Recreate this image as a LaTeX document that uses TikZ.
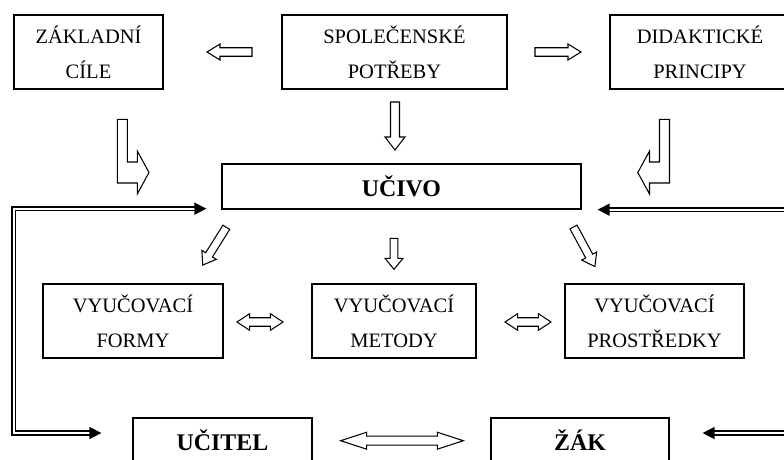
\documentclass[tikz,border=0pt]{standalone}
\usepackage{fontspec}
\setmainfont{Liberation Serif}
\usetikzlibrary{arrows.meta,calc}

% strut giving every text line the same height and depth
\newcommand\lstrut{\rule[-6pt]{0pt}{29.6pt}}

\tikzset{
  box/.style={draw, line width=1.3pt, inner sep=0pt, align=center,
    font=\fontsize{20.5}{35}\selectfont},
  boldbox/.style={draw, line width=1.3pt, inner sep=0pt,
    font=\fontsize{23.9}{28}\selectfont\bfseries,
    text height=24pt, text depth=3.6pt},
  blockline/.style={draw, line width=1.05pt, fill=white, line join=miter},
  dblarrow/.style={double, double distance=2pt, line width=1.6pt,
    {Triangle[length=12pt,width=12pt]}-{Triangle[length=12pt,width=12pt]}},
  % hollow block arrow: length, shaft width, head width, head length
  pics/blockarrow/.style n args={4}{code={%
    \path[blockline] (0,-#2/2) -- ({#1-#4},-#2/2) -- ({#1-#4},-#3/2) -- (#1,0)
      -- ({#1-#4},#3/2) -- ({#1-#4},#2/2) -- (0,#2/2) -- cycle;}},
  % hollow block arrow with a head at both ends
  pics/dblblock/.style n args={4}{code={%
    \path[blockline] (0,0) -- (#4,#3/2) -- (#4,#2/2) -- ({#1-#4},#2/2)
      -- ({#1-#4},#3/2) -- (#1,0) -- ({#1-#4},-#3/2) -- ({#1-#4},-#2/2)
      -- (#4,-#2/2) -- (#4,-#3/2) -- cycle;}},
}

\begin{document}
\begin{tikzpicture}[x=1pt, y=-1pt]
\useasboundingbox (0,0) rectangle (784,459);
\clip (0,0) rectangle (784,459);

% boxes
\node[box, minimum width=149pt, minimum height=74pt] (zaklad) at (88.5,52)
  {\lstrut ZÁKLADNÍ\\\lstrut CÍLE};
\node[box, minimum width=225pt, minimum height=74pt] (spol) at (394.5,52)
  {\lstrut SPOLEČENSKÉ\\\lstrut POTŘEBY};
\node[box, minimum width=180pt, minimum height=74pt] (didakt) at (700,52)
  {\lstrut DIDAKTICKÉ\\\lstrut PRINCIPY};
\node[boldbox, minimum width=359pt, minimum height=45pt] (ucivo) at (401.5,186.5)
  {UČIVO};
\node[box, minimum width=180pt, minimum height=74pt] (formy) at (133,321)
  {\lstrut VYUČOVACÍ\\\lstrut FORMY};
\node[box, minimum width=164pt, minimum height=74pt] (metody) at (394,321)
  {\lstrut VYUČOVACÍ\\\lstrut METODY};
\node[box, minimum width=179pt, minimum height=74pt] (prostr) at (654.5,321)
  {\lstrut VYUČOVACÍ\\\lstrut PROSTŘEDKY};
\node[boldbox, minimum width=179pt, minimum height=45pt] (ucitel) at (222.5,440.5)
  {UČITEL};
\node[boldbox, minimum width=178pt, minimum height=45pt] (zak) at (580,440.5)
  {ŽÁK};

% hollow arrows between the top boxes
\pic[rotate=180] at (252,52) {blockarrow={45}{8.5}{16}{13}};
\pic at (535,52) {blockarrow={46}{8.5}{16}{13}};
\pic[rotate=-90] at (395,102) {blockarrow={48}{9}{20}{13}};

% bent arrows into UČIVO
\path[blockline] (117.3,119.3) -- (127.3,119.3) -- (127.3,162) -- (137.3,162)
  -- (137.3,151) -- (149,172.5) -- (137.3,194) -- (137.3,183) -- (117.3,183) -- cycle;
\path[blockline] (669.5,119.3) -- (659.5,119.3) -- (659.5,162) -- (649.5,162)
  -- (649.5,151) -- (637.8,172.5) -- (649.5,194) -- (649.5,183) -- (669.5,183) -- cycle;

% arrows from UČIVO to the three means
\pic[rotate=-122] at (226.3,227.3) {blockarrow={44.5}{8}{17}{12}};
\pic[rotate=-90] at (394,238.3) {blockarrow={31}{7.7}{18}{11}};
\pic[rotate=-61.6] at (573.5,227) {blockarrow={45}{8}{17}{12}};

% two-headed arrows
\pic at (237,322) {dblblock={46}{8.5}{16.7}{12.7}};
\pic at (505,322) {dblblock={46}{8.5}{16.7}{12.7}};
\pic at (340.7,440.7) {dblblock={122.6}{9}{17}{26}};

% feedback loops
\coordinate (fbA) at ([xshift=-15pt,yshift=1pt]ucivo.south west);
\coordinate (fbB) at ([xshift=-31pt,yshift=7.5pt]ucitel.west);
\coordinate (fbX) at (13.5,0);
\draw[dblarrow] (fbA) -- (fbX |- fbA) -- (fbX |- fbB) -- (fbB);

\coordinate (fbC) at ([xshift=16pt]ucivo.south east);
\coordinate (fbD) at ([xshift=33pt,yshift=7.5pt]zak.east);
\coordinate (fbY) at (800,0);
\draw[dblarrow] (fbC) -- (fbY |- fbC) -- (fbY |- fbD) -- (fbD);
\end{tikzpicture}
\end{document}
